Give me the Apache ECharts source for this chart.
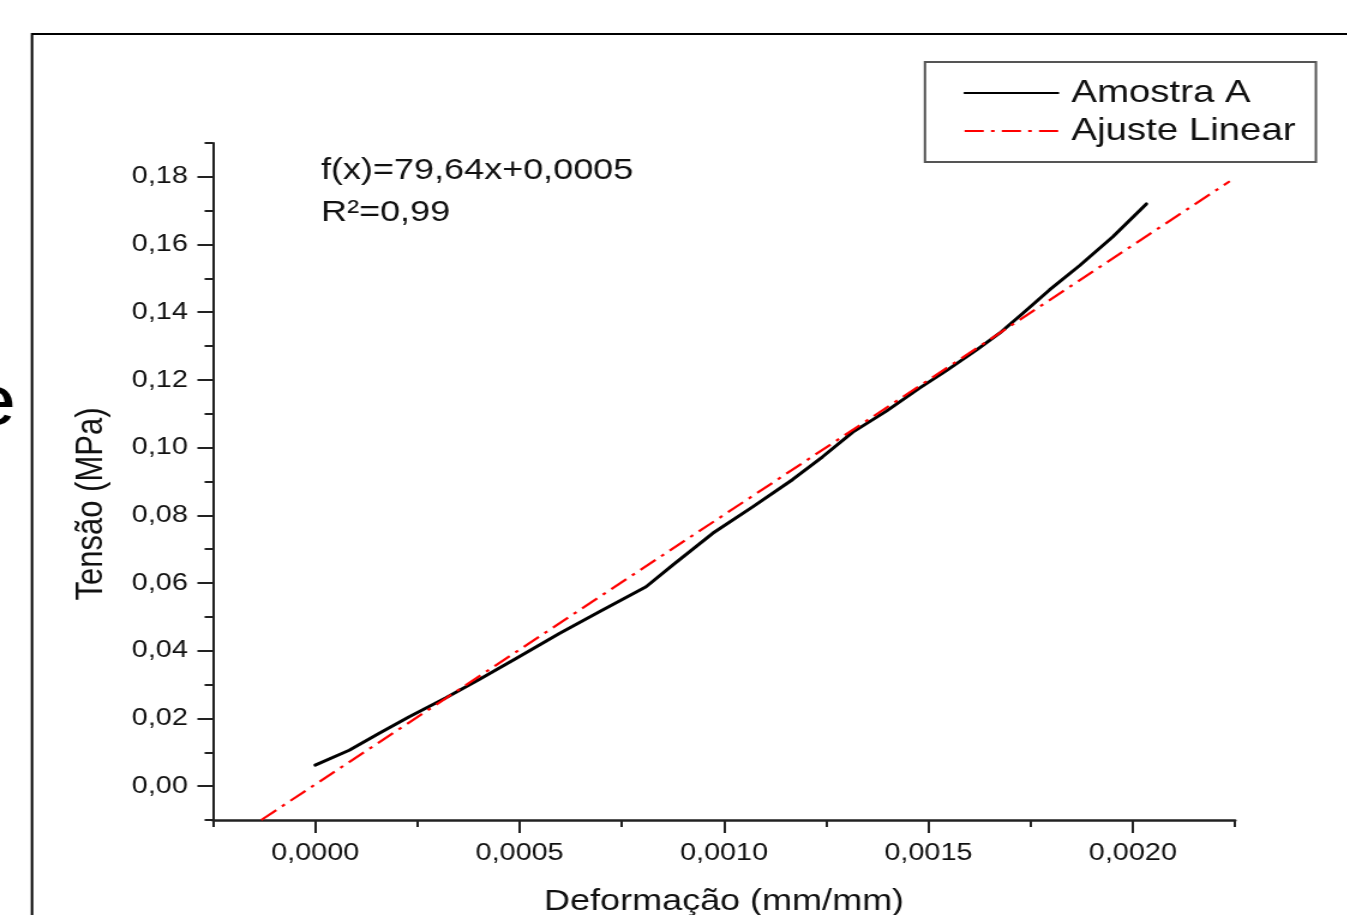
<!DOCTYPE html>
<html><head><meta charset="utf-8">
<script src="https://cdn.jsdelivr.net/npm/echarts@6/dist/echarts.min.js"></script>
<style>
html,body{margin:0;padding:0;background:#fff;overflow:hidden;width:1347px;height:915px;}
#chart{width:1123px;height:915px;transform:scaleX(1.2);transform-origin:0 0;}
</style></head><body><div id="chart"></div>
<script>
// ---- data ----
const strainA = [0, 0.0000832, 0.0001566, 0.000230, 0.0003198, 0.000401, 0.0004912, 0.0005971, 0.000695, 0.0008093, 0.0008743, 0.0009722, 0.00107, 0.001168, 0.001241, 0.001315, 0.001397, 0.001478, 0.001543, 0.001617, 0.001674, 0.001731, 0.001796, 0.00187, 0.001951, 0.002033];
const stressA = [0.0062, 0.0106, 0.0156, 0.0205, 0.0261, 0.0315, 0.0377, 0.0451, 0.0515, 0.0589, 0.0653, 0.0747, 0.0825, 0.0906, 0.0973, 0.1046, 0.1108, 0.1176, 0.1227, 0.1288, 0.1338, 0.1397, 0.1466, 0.1538, 0.1623, 0.1720];
const fitStrain = [-0.000132, 0.002237];
const fitStress = [-0.0100, 0.1787];
const xTickValues = [0, 0.0005, 0.0010, 0.0015, 0.0020];
const xTickLabels = ['0,0000', '0,0005', '0,0010', '0,0015', '0,0020'];
const yTickValues = [0, 0.02, 0.04, 0.06, 0.08, 0.10, 0.12, 0.14, 0.16, 0.18];
const yTickLabels = ['0,00', '0,02', '0,04', '0,06', '0,08', '0,10', '0,12', '0,14', '0,16', '0,18'];
const seriesNames = ['Amostra A', 'Ajuste Linear'];
const annotation = ['f(x)=79,64x+0,0005', 'R\u00b2=0,99'];

const SX = 1.2; // horizontal stretch of the reference picture
const FONT = '"Liberation Sans", Arial, Helvetica, sans-serif';
const INK = '#111';

function lookup(vals, labels) {
  return function (v) {
    for (let i = 0; i < vals.length; i++) if (Math.abs(vals[i] - v) < 1e-9) return labels[i];
    return '';
  };
}

const chart = echarts.init(document.getElementById('chart'), null, {renderer: 'canvas'});

chart.setOption({
  animation: false,
  backgroundColor: '#fff',
  textStyle: {fontFamily: FONT},
  grid: {left: 177.5, right: 93.8, top: 143, bottom: 95, containLabel: false, outerBoundsMode: 'none'},
  legend: {
    data: seriesNames,
    orient: 'vertical',
    left: 770.8, top: 62,
    itemWidth: 78, itemHeight: 14, itemGap: 6,
    padding: [15, 17, 15, 32],
    borderColor: '#555', borderWidth: 2, backgroundColor: '#fff',
    itemStyle: {color: 'transparent', borderColor: 'transparent', borderWidth: 0, opacity: 0},
    textStyle: {fontSize: 32, color: INK, fontFamily: FONT, padding: [0, 0, 0, 6]}
  },
  xAxis: [
    {
      type: 'value', min: -0.00025, max: 0.00225, interval: 0.00025, position: 'bottom',
      name: 'Deformação (mm/mm)', nameLocation: 'middle', nameGap: 67,
      nameTextStyle: {fontSize: 30, color: INK, fontFamily: FONT},
      axisLine: {show: true, onZero: false, lineStyle: {color: '#222', width: 2.5}},
      axisTick: {show: true, customValues: xTickValues, length: 13, lineStyle: {color: '#222', width: 2}},
      axisLabel: {show: true, customValues: xTickValues, formatter: lookup(xTickValues, xTickLabels), margin: 21, fontSize: 24, color: INK, fontFamily: FONT},
      splitLine: {show: false}
    },
    {
      type: 'value', min: -0.00025, max: 0.00225, interval: 0.00025, position: 'bottom',
      axisLine: {show: false, onZero: false},
      axisTick: {show: true, length: 7, lineStyle: {color: '#222', width: 2}},
      axisLabel: {show: false},
      splitLine: {show: false}
    }
  ],
  yAxis: [
    {
      type: 'value', min: -0.01, max: 0.19, interval: 0.01, position: 'left',
      name: 'Tensão (MPa)', nameLocation: 'middle', nameGap: 86, nameRotate: 90,
      nameTextStyle: {fontSize: 31, color: INK, fontFamily: FONT, padding: [0, 45, 0, 0]},
      axisLine: {show: true, onZero: false, lineStyle: {color: '#222', width: 2}},
      axisTick: {show: true, customValues: yTickValues, length: 13, lineStyle: {color: '#222', width: 2}},
      axisLabel: {show: true, customValues: yTickValues, formatter: lookup(yTickValues, yTickLabels), margin: 21, fontSize: 24, color: INK, fontFamily: FONT},
      splitLine: {show: false}
    },
    {
      type: 'value', min: -0.01, max: 0.19, interval: 0.01, position: 'left',
      axisLine: {show: false, onZero: false},
      axisTick: {show: true, length: 7, lineStyle: {color: '#222', width: 2}},
      axisLabel: {show: false},
      splitLine: {show: false}
    }
  ],
  series: [
    {
      name: seriesNames[0], type: 'line', xAxisIndex: 0, yAxisIndex: 0,
      data: strainA.map((x, i) => [x, stressA[i]]),
      symbol: 'none', smooth: false,
      lineStyle: {color: '#000', width: 3, join: 'round', cap: 'round'},
      itemStyle: {color: '#000'}, z: 3
    },
    {
      name: seriesNames[1], type: 'line', xAxisIndex: 0, yAxisIndex: 0,
      data: fitStrain.map((x, i) => [x, fitStress[i]]),
      symbol: 'none',
      lineStyle: {color: '#ff0000', width: 2.2, type: [16, 6, 3, 6]},
      itemStyle: {color: '#ff0000'}, z: 4
    }
  ],
  graphic: [
    {type: 'rect', silent: true, z: -10, shape: {x: 32 / SX, y: 34, width: 3000, height: 3000},
     style: {fill: 'none', stroke: '#000', lineWidth: 2}},
    {type: 'text', silent: true, x: 13.5, y: 405,
     style: {text: 'e', fontSize: 72, fontFamily: FONT, fill: '#000', align: 'right', verticalAlign: 'middle'}},
    {type: 'text', silent: true, x: 321 / SX, y: 170.5,
     style: {text: annotation[0], fontSize: 30, fontFamily: FONT, fill: INK, align: 'left', verticalAlign: 'middle'}},
    {type: 'text', silent: true, x: 321 / SX, y: 212.5,
     style: {text: annotation[1], fontSize: 30, fontFamily: FONT, fill: INK, align: 'left', verticalAlign: 'middle'}}
  ]
});
</script></body></html>
